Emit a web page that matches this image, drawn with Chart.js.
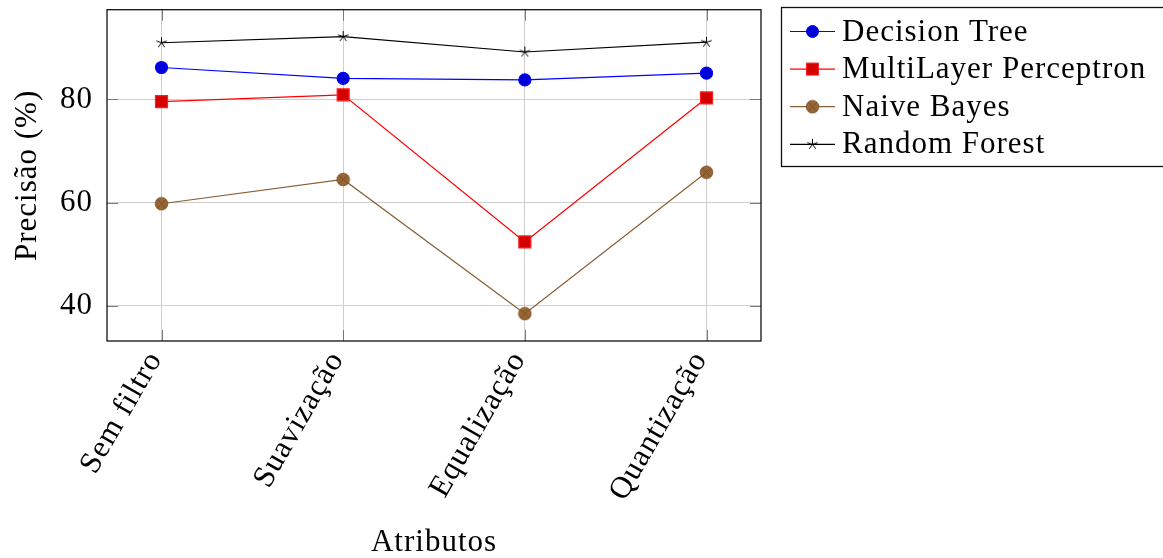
<!DOCTYPE html>
<html>
<head>
<meta charset="utf-8">
<script src="https://cdn.jsdelivr.net/npm/chart.js@4"></script>
<style>
  html, body { margin: 0; padding: 0; background: #fff; }
  #wrap { width: 1163px; height: 558px; }
</style>
</head>
<body>
<div id="wrap"><canvas id="chart" width="1163" height="558"></canvas></div>
<script>
// data
const categories = ['Sem filtro', 'Suavização', 'Equalização', 'Quantização'];
const decisionTree = [86.2, 84.1, 83.8, 85.1];
const multiLayerPerceptron = [79.6, 80.9, 52.4, 80.3];
const naiveBayes = [59.8, 64.5, 38.5, 65.9];
const randomForest = [91.0, 92.2, 89.2, 91.1];
const yTicks = [40, 60, 80];
const seriesNames = ['Decision Tree', 'MultiLayer Perceptron', 'Naive Bayes', 'Random Forest'];

const FONT = "'Liberation Serif', 'Times New Roman', serif";

// small canvas icons for the marks Chart.js doesn't have
function makeOtimes(r, fill, stroke) {
  const c = document.createElement('canvas');
  const s = Math.ceil(2 * r + 2);
  c.width = s; c.height = s;
  const g = c.getContext('2d');
  const m = s / 2;
  g.beginPath();
  g.arc(m, m, r, 0, Math.PI * 2);
  g.fillStyle = fill;
  g.fill();
  g.lineWidth = 0.8;
  g.strokeStyle = stroke;
  g.stroke();
  const d = r * Math.SQRT1_2;
  g.beginPath();
  g.moveTo(m - d, m - d); g.lineTo(m + d, m + d);
  g.moveTo(m + d, m - d); g.lineTo(m - d, m + d);
  g.stroke();
  return c;
}

function makeStar(r, color) {
  const c = document.createElement('canvas');
  const s = Math.ceil(2 * r + 2);
  c.width = s; c.height = s;
  const g = c.getContext('2d');
  const m = s / 2;
  g.strokeStyle = color;
  g.lineWidth = 1;
  g.beginPath();
  for (let k = 0; k < 5; k++) {
    const a = -Math.PI / 2 + k * 2 * Math.PI / 5;
    g.moveTo(m, m);
    g.lineTo(m + r * Math.cos(a), m + r * Math.sin(a));
  }
  g.stroke();
  return c;
}

const otimes = makeOtimes(6.3, '#9a6532', '#6e4a26');
const star = makeStar(5.5, '#000');

function toPoints(arr) {
  return arr.map((v, i) => ({ x: i, y: v }));
}

// box round the plot, inner tick marks, and the legend at the right
const frameAndLegend = {
  id: 'frameAndLegend',
  beforeDraw(chart) {
    chart.ctx.letterSpacing = '1px';
  },
  beforeDatasetsDraw(chart) {
    const { ctx, chartArea: a, scales } = chart;
    ctx.save();
    ctx.strokeStyle = '#7a7a7a';
    ctx.lineWidth = 1;
    ctx.beginPath();
    yTicks.forEach(v => {
      const y = Math.round(scales.y.getPixelForValue(v)) + 0.5;
      ctx.moveTo(a.left, y); ctx.lineTo(a.left + 11, y);
      ctx.moveTo(a.right, y); ctx.lineTo(a.right - 11, y);
    });
    categories.forEach((c, i) => {
      const x = Math.round(scales.x.getPixelForValue(i)) + 0.5;
      ctx.moveTo(x, a.top); ctx.lineTo(x, a.top + 11);
      ctx.moveTo(x, a.bottom); ctx.lineTo(x, a.bottom - 11);
    });
    ctx.stroke();
    ctx.strokeStyle = '#111';
    ctx.lineWidth = 1.3;
    ctx.strokeRect(a.left, a.top, a.right - a.left, a.bottom - a.top);
    ctx.restore();
  },
  afterDraw(chart) {
    const ctx = chart.ctx;
    ctx.save();
    ctx.strokeStyle = '#111';
    ctx.lineWidth = 1.3;
    ctx.strokeRect(781.5, 7.5, 400, 159);
    ctx.font = '31px ' + FONT;
    ctx.letterSpacing = '1px';
    ctx.fillStyle = '#000';
    ctx.textBaseline = 'middle';
    chart.data.datasets.forEach((ds, i) => {
      const y = 31.5 + i * 37.6;
      ctx.strokeStyle = ds.borderColor;
      ctx.lineWidth = 1.2;
      ctx.beginPath();
      ctx.moveTo(790, y); ctx.lineTo(835, y);
      ctx.stroke();
      ctx.fillStyle = ds.pointBackgroundColor;
      ctx.strokeStyle = ds.pointBorderColor;
      ctx.lineWidth = 1;
      Chart.helpers.drawPoint(ctx, { pointStyle: ds.pointStyle, radius: ds.pointRadius, rotation: 0, borderWidth: 1 }, 812.5, y);
      ctx.fillStyle = '#000';
      ctx.fillText(ds.label, 842, y + 1);
    });
    ctx.restore();
  }
};

const ctx = document.getElementById('chart').getContext('2d');
Chart.defaults.color = '#000';
Chart.defaults.font.family = FONT;

new Chart(ctx, {
  type: 'line',
  data: {
    datasets: [{
      label: seriesNames[0],
      data: toPoints(decisionTree),
      borderColor: '#0000ff',
      backgroundColor: '#0000ff',
      pointBackgroundColor: '#0000d8',
      pointBorderColor: '#0000ff',
      pointStyle: 'circle',
      pointRadius: 6,
      borderWidth: 1.2
    }, {
      label: seriesNames[1],
      data: toPoints(multiLayerPerceptron),
      borderColor: '#ff0000',
      backgroundColor: '#ff0000',
      pointBackgroundColor: '#d40000',
      pointBorderColor: '#ff2020',
      pointStyle: 'rect',
      pointRadius: 8.5,
      borderWidth: 1.2
    }, {
      label: seriesNames[2],
      data: toPoints(naiveBayes),
      borderColor: '#8a5f35',
      backgroundColor: '#8a5f35',
      pointBackgroundColor: '#9a6532',
      pointBorderColor: '#6e4a26',
      pointStyle: otimes,
      pointRadius: 6.3,
      borderWidth: 1.2
    }, {
      label: seriesNames[3],
      data: toPoints(randomForest),
      borderColor: '#000',
      backgroundColor: '#000',
      pointBackgroundColor: '#000',
      pointBorderColor: '#000',
      pointStyle: star,
      pointRadius: 5.5,
      borderWidth: 1.2
    }]
  },
  options: {
    responsive: false,
    animation: false,
    events: [],
    layout: {
      padding: { left: 0, top: 7, right: 402, bottom: 0 }
    },
    plugins: {
      legend: { display: false },
      tooltip: { enabled: false }
    },
    elements: {
      line: { tension: 0, fill: false }
    },
    scales: {
      x: {
        type: 'linear',
        min: -0.3,
        max: 3.3,
        afterBuildTicks(scale) {
          scale.ticks = categories.map((c, i) => ({ value: i }));
        },
        afterFit(scale) {
          scale.height = 217;
          scale.paddingLeft = 0;
          scale.paddingRight = 0;
        },
        ticks: {
          autoSkip: false,
          minRotation: 60,
          maxRotation: 60,
          padding: 4,
          labelOffset: -6,
          font: { size: 31, family: FONT },
          callback: (v) => categories[v]
        },
        grid: { color: '#cfcfcf', lineWidth: 1, drawTicks: false },
        border: { display: false },
        title: {
          display: true,
          text: 'Atributos',
          font: { size: 31, family: FONT },
          padding: { top: 0, bottom: -3 }
        }
      },
      y: {
        min: 33.2,
        max: 97.4,
        afterBuildTicks(scale) {
          scale.ticks = yTicks.map(v => ({ value: v }));
        },
        afterFit(scale) {
          scale.width = 107;
          scale.paddingTop = 0;
          scale.paddingBottom = 0;
        },
        ticks: {
          padding: 14,
          font: { size: 31, family: FONT }
        },
        grid: { color: '#cfcfcf', lineWidth: 1, drawTicks: false },
        border: { display: false },
        title: {
          display: true,
          text: 'Precisão (%)',
          font: { size: 31, family: FONT },
          padding: { top: 9, bottom: 0 }
        }
      }
    }
  },
  plugins: [frameAndLegend]
});
</script>
</body>
</html>
